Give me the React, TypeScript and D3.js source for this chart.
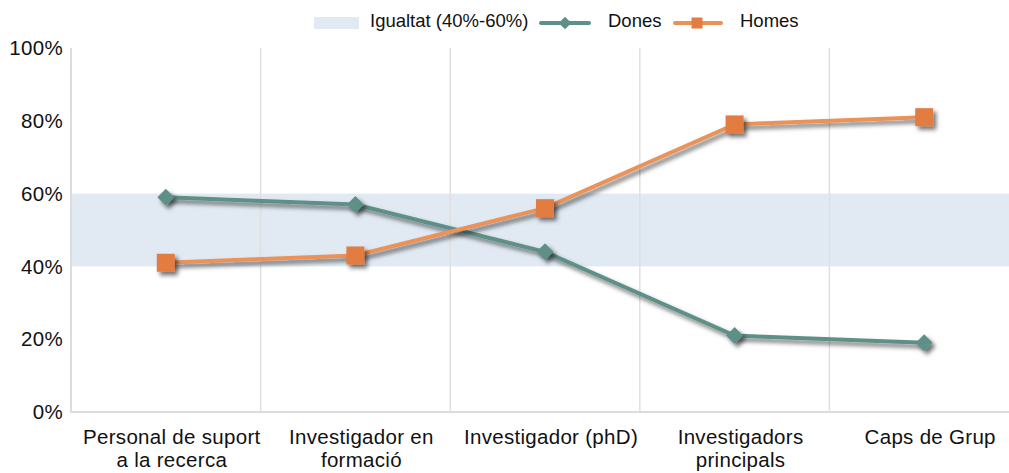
import React, { useEffect, useRef } from 'react';
import * as d3 from 'd3';

const categories = [
  ['Personal de suport', 'a la recerca'],
  ['Investigador en', 'formació'],
  ['Investigador (phD)'],
  ['Investigadors', 'principals'],
  ['Caps de Grup'],
];
const dones = [59, 57, 44, 21, 19];
const homes = [41, 43, 56, 79, 81];
const yTicks = [0, 20, 40, 60, 80, 100];
const band = [40, 60];

const W = 1009;
const H = 473;
const FONT = '"Liberation Sans", Arial, Helvetica, sans-serif';
const TEAL = '#5e9088';
const ORANGE_LINE = '#ea9258';
const ORANGE_MARK = '#e27c40';
const BAND = '#e1eaf3';

const App = () => {
  const svgRef = useRef<SVGSVGElement>(null);

  useEffect(() => {
    const svg = d3.select(svgRef.current);
    svg.selectAll('*').remove();

    const left = 71, right = 1019, top = 48, bottom = 412;
    const keys = categories.map((c) => c.join(' '));

    const x = d3.scaleBand().domain(keys).range([left, right]);
    const cx = (i: number) => (x(keys[i]) as number) + x.bandwidth() / 2;
    const y = d3.scaleLinear().domain([0, 100]).range([bottom, top]);

    // shadow filter
    const defs = svg.append('defs');
    const f = defs.append('filter').attr('id', 'shadow')
      .attr('x', '-20%').attr('y', '-20%').attr('width', '150%').attr('height', '150%');
    f.append('feDropShadow').attr('dx', 3).attr('dy', 3.5).attr('stdDeviation', 2.2)
      .attr('flood-color', '#000').attr('flood-opacity', 0.55);

    // equality band
    svg.append('rect')
      .attr('x', left).attr('y', y(band[1]))
      .attr('width', W - left).attr('height', y(band[0]) - y(band[1]))
      .attr('fill', BAND);

    // vertical grid lines between categories
    keys.slice(1).forEach((k) => {
      svg.append('line')
        .attr('x1', x(k) as number).attr('x2', x(k) as number)
        .attr('y1', top).attr('y2', bottom)
        .attr('stroke', '#e0e0e0').attr('stroke-width', 1.5);
    });

    // axis lines
    svg.append('line').attr('x1', left).attr('x2', left).attr('y1', top).attr('y2', bottom + 1)
      .attr('stroke', '#dcdcdc').attr('stroke-width', 2);
    svg.append('line').attr('x1', left).attr('x2', W).attr('y1', bottom).attr('y2', bottom)
      .attr('stroke', '#dcdcdc').attr('stroke-width', 2);

    // y tick labels
    svg.append('g').selectAll('text').data(yTicks).enter().append('text')
      .attr('x', 63).attr('y', (d) => y(d))
      .attr('dy', '0.35em').attr('text-anchor', 'end')
      .attr('font-family', FONT).attr('font-size', 20.5).attr('letter-spacing', 0.3).attr('fill', '#111')
      .text((d) => `${d}%`);

    // category labels (sit slightly right of the band centre, as in the source)
    categories.forEach((lines, i) => {
      const t = svg.append('text').attr('text-anchor', 'middle')
        .attr('font-family', FONT).attr('font-size', 20.5).attr('letter-spacing', 0.3).attr('fill', '#111');
      lines.forEach((ln, j) => {
        t.append('tspan').attr('x', cx(i) + 6).attr('y', 444 + j * 23).text(ln);
      });
    });

    const line = d3.line<number>().x((_, i) => cx(i)).y((d) => y(d));

    // Dones
    svg.append('path').datum(dones).attr('d', line).attr('fill', 'none')
      .attr('stroke', TEAL).attr('stroke-width', 4).attr('filter', 'url(#shadow)');
    // Homes
    svg.append('path').datum(homes).attr('d', line).attr('fill', 'none')
      .attr('stroke', ORANGE_LINE).attr('stroke-width', 4).attr('filter', 'url(#shadow)');

    const diamond = (g: any, px: number, py: number, s: number) =>
      g.append('rect').attr('x', px - s / 2).attr('y', py - s / 2).attr('width', s).attr('height', s)
        .attr('transform', `rotate(45 ${px} ${py})`).attr('fill', TEAL);
    const square = (g: any, px: number, py: number, s: number) =>
      g.append('rect').attr('x', px - s / 2).attr('y', py - s / 2).attr('width', s).attr('height', s)
        .attr('fill', ORANGE_MARK);

    const mk = svg.append('g').attr('filter', 'url(#shadow)');
    dones.forEach((d, i) => diamond(mk, cx(i), y(d), 12));
    homes.forEach((d, i) => square(mk, cx(i), y(d), 18));

    // legend
    const lg = svg.append('g');
    lg.append('rect').attr('x', 314).attr('y', 17).attr('width', 45).attr('height', 12).attr('fill', BAND);
    lg.append('text').attr('x', 370).attr('y', 21).attr('dy', '0.35em')
      .attr('font-family', FONT).attr('font-size', 18.5).attr('fill', '#111').text('Igualtat (40%-60%)');
    lg.append('line').attr('x1', 541).attr('x2', 589).attr('y1', 23).attr('y2', 23)
      .attr('stroke', TEAL).attr('stroke-width', 4).attr('stroke-linecap', 'round');
    diamond(lg, 565, 23, 9);
    lg.append('text').attr('x', 608).attr('y', 21).attr('dy', '0.35em')
      .attr('font-family', FONT).attr('font-size', 18.5).attr('fill', '#111').text('Dones');
    lg.append('line').attr('x1', 675).attr('x2', 721).attr('y1', 23).attr('y2', 23)
      .attr('stroke', ORANGE_LINE).attr('stroke-width', 4).attr('stroke-linecap', 'round');
    square(lg, 697, 23, 11);
    lg.append('text').attr('x', 740).attr('y', 21).attr('dy', '0.35em')
      .attr('font-family', FONT).attr('font-size', 18.5).attr('fill', '#111').text('Homes');
  }, []);

  return (
    <div style={{ position: 'absolute', left: 0, top: 0 }}>
      <svg ref={svgRef} width={W} height={H} style={{ display: 'block', background: '#fff' }} />
    </div>
  );
};

export default App;
